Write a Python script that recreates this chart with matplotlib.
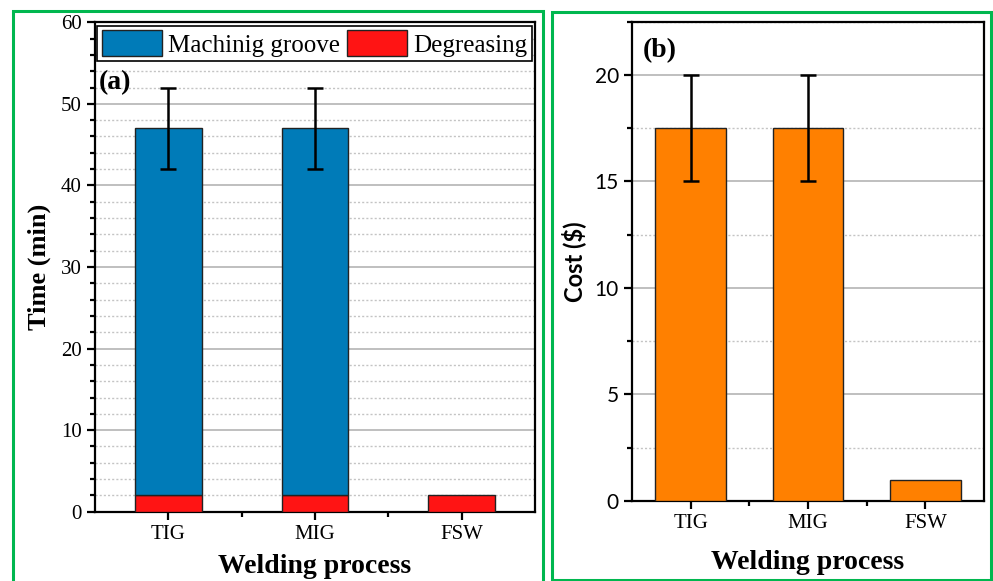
import matplotlib
matplotlib.use("Agg")
import matplotlib.pyplot as plt
from matplotlib.patches import Rectangle
from matplotlib.ticker import MultipleLocator, FixedLocator
import numpy as np

# ---- data ----
processes = ["TIG", "MIG", "FSW"]
degreasing_time = [2, 2, 2]
machining_time = [45, 45, 0]
time_err = [5, 5, 0]
cost = [17.5, 17.5, 1.0]
cost_err = [2.5, 2.5, 0]

SERIF = ["Liberation Serif", "DejaVu Serif"]
SANS = ["Lato", "DejaVu Sans"]
BLUE = "#007BB8"
RED = "#FF1414"
ORANGE = "#FF8000"
GREEN = "#00B74F"

fig = plt.figure(figsize=(9.93, 5.81), dpi=100)
W, H = 993, 581

def frac_rect(x0, y0, x1, y1):
    return [x0 / W, 1 - y1 / H, (x1 - x0) / W, (y1 - y0) / H]

# green frames
fig.patches.append(Rectangle((13 / W, -0.05), (543 - 13) / W, 1 - 11 / H + 0.05,
                             transform=fig.transFigure, fill=False, edgecolor=GREEN, lw=2.2))
fig.patches.append(Rectangle((552 / W, 1 - 580 / H), (991 - 552) / W, (580 - 12) / H,
                             transform=fig.transFigure, fill=False, edgecolor=GREEN, lw=2.2))

x = np.arange(1, len(processes) + 1)


def style_axes(ax):
    for s in ax.spines.values():
        s.set_linewidth(1.6)
        s.set_color("black")
    ax.set_axisbelow(True)
    ax.tick_params(axis="both", which="major", direction="out", length=6, width=1.6)
    ax.tick_params(axis="both", which="minor", direction="out", length=3.5, width=1.6)
    ax.set_xlim(0.5, 3.5)
    ax.set_xticks(x)
    ax.xaxis.set_minor_locator(FixedLocator([1.5, 2.5]))
    ax.set_xticklabels(processes, family=SERIF, fontsize=15)
    ax.grid(True, which="major", axis="y", color="#b4b4b4", lw=1.2, ls="-")
    ax.grid(True, which="minor", axis="y", color="#c4c4c4", lw=1.0, ls=(0, (1.5, 1.5)))


# ---- panel (a) ----
axa = fig.add_axes(frac_rect(95, 22.3, 535, 511.7))
style_axes(axa)
axa.set_ylim(0, 60)
axa.yaxis.set_major_locator(MultipleLocator(10))
axa.yaxis.set_minor_locator(MultipleLocator(2))
bw_a = 0.455
axa.bar(x, degreasing_time, width=bw_a, color=RED, edgecolor="#222222", lw=1.0,
        label="Degreasing", zorder=3)
mach_x = [xi for xi, m in zip(x, machining_time) if m > 0]
mach_v = [m for m in machining_time if m > 0]
mach_b = [d for d, m in zip(degreasing_time, machining_time) if m > 0]
axa.bar(mach_x, mach_v, bottom=mach_b, width=bw_a, color=BLUE, edgecolor="#222222",
        lw=1.0, label="Machinig groove", zorder=3)
tot = [d + m for d, m in zip(degreasing_time, machining_time)]
ex = [xi for xi, e in zip(x, time_err) if e > 0]
ey = [t for t, e in zip(tot, time_err) if e > 0]
ee = [e for e in time_err if e > 0]
axa.errorbar(ex, ey, yerr=ee, fmt="none", ecolor="black", elinewidth=1.8,
             capsize=6, capthick=1.8, zorder=4)
for lab in axa.get_yticklabels():
    lab.set_family(SERIF)
    lab.set_fontsize(15)
axa.set_xlabel("Welding process", family=SERIF, fontsize=20, fontweight="bold", labelpad=7)
axa.set_ylabel("Time (min)", family=SERIF, fontsize=19, fontweight="bold", labelpad=7)
handles, labels = axa.get_legend_handles_labels()
order = [1, 0]
leg = axa.legend([handles[i] for i in order], [labels[i] for i in order],
                 loc="upper left", bbox_to_anchor=(0.005, 0.9925, 0.988, 0), mode="expand",
                 ncol=2, prop={"family": SERIF, "size": 18}, frameon=True, fancybox=False,
                 edgecolor="black", framealpha=1, handlelength=2.4, handleheight=1.2,
                 borderpad=0.18, handletextpad=0.25, columnspacing=0.6, borderaxespad=0)
leg.get_frame().set_linewidth(1.2)
axa.text(0.008, 0.876, "(a)", transform=axa.transAxes, family=SERIF, fontsize=20,
         fontweight="bold", va="center", ha="left", zorder=5)

# ---- panel (b) ----
axb = fig.add_axes(frac_rect(632, 21.7, 984, 501))
style_axes(axb)
axb.set_ylim(0, 22.5)
axb.yaxis.set_major_locator(MultipleLocator(5))
axb.yaxis.set_minor_locator(MultipleLocator(2.5))
bw_b = 0.6
axb.bar(x, cost, width=bw_b, color=ORANGE, edgecolor="#222222", lw=1.0, zorder=3)
cx = [xi for xi, e in zip(x, cost_err) if e > 0]
cy = [c for c, e in zip(cost, cost_err) if e > 0]
ce = [e for e in cost_err if e > 0]
axb.errorbar(cx, cy, yerr=ce, fmt="none", ecolor="black", elinewidth=1.8,
             capsize=6, capthick=1.8, zorder=4)
for lab in axb.get_yticklabels():
    lab.set_family(SANS)
    lab.set_fontsize(15)
axb.set_xlabel("Welding process", family=SERIF, fontsize=20, fontweight="bold", labelpad=12)
axb.set_ylabel("Cost ($)", family=SANS, fontsize=17, fontweight="bold", labelpad=6)
axb.text(0.03, 0.94, "(b)", transform=axb.transAxes, family=SERIF, fontsize=20,
         fontweight="bold", va="center", ha="left", zorder=5)

fig.savefig("out.png", dpi=100)
